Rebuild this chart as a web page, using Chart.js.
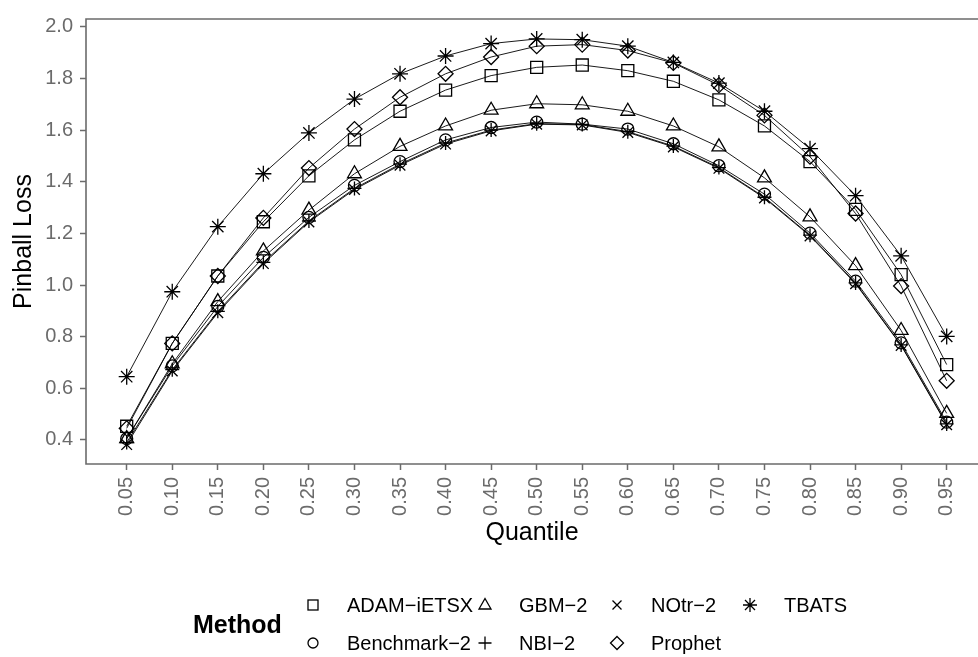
<!DOCTYPE html>
<html lang="en">
<head>
    <meta charset="UTF-8">
    <title>Pinball Loss by Quantile</title>
    <script src="https://cdn.jsdelivr.net/npm/chart.js"></script>
    <style>
        body {
            margin: 0;
            background: #fff;
            font-family: "Liberation Sans", Arial, sans-serif;
        }
        #wrap {
            position: relative;
            width: 978px;
            height: 657px;
        }
        #legendTitle {
            position: absolute;
            left: 193px;
            top: 609px;
            font-size: 25px;
            line-height: 30px;
            font-weight: bold;
            color: #000;
        }
        #legend {
            position: absolute;
            left: 301px;
            top: 586px;
            display: flex;
        }
        .col { display: flex; flex-direction: column; }
        .item {
            display: flex;
            align-items: center;
            height: 38px;
            font-size: 20px;
            color: #000;
            white-space: nowrap;
        }
        .item svg { width: 24px; height: 24px; margin-right: 22px; flex: none; }
    </style>
</head>
<body>
<div id="wrap">
    <canvas id="lossChart"></canvas>
    <div id="legendTitle">Method</div>
    <div id="legend"></div>
</div>

<script>
    // x positions (quantile levels) and their tick labels
    const quantiles = [0.05, 0.10, 0.15, 0.20, 0.25, 0.30, 0.35, 0.40, 0.45, 0.50,
                       0.55, 0.60, 0.65, 0.70, 0.75, 0.80, 0.85, 0.90, 0.95];
    const quantileLabels = ['0.05', '0.10', '0.15', '0.20', '0.25', '0.30', '0.35', '0.40', '0.45', '0.50',
                            '0.55', '0.60', '0.65', '0.70', '0.75', '0.80', '0.85', '0.90', '0.95'];
    const yTicks = [0.4, 0.6, 0.8, 1.0, 1.2, 1.4, 1.6, 1.8, 2.0];
    const yTickLabels = ['0.4', '0.6', '0.8', '1.0', '1.2', '1.4', '1.6', '1.8', '2.0'];

    // pinball loss per method
    const adamIetsx = [0.453, 0.774, 1.035, 1.245, 1.423, 1.562, 1.673, 1.755, 1.811, 1.843,
                       1.852, 1.830, 1.789, 1.717, 1.616, 1.478, 1.293, 1.040, 0.692];
    const benchmark2 = [0.405, 0.687, 0.917, 1.107, 1.262, 1.386, 1.478, 1.562, 1.610, 1.631,
                        1.623, 1.604, 1.547, 1.462, 1.352, 1.201, 1.015, 0.776, 0.469];
    const gbm2 = [0.405, 0.695, 0.936, 1.132, 1.290, 1.431, 1.537, 1.616, 1.677, 1.702,
                  1.698, 1.673, 1.616, 1.535, 1.415, 1.264, 1.075, 0.824, 0.503];
    const nbi2 = [0.390, 0.672, 0.898, 1.088, 1.248, 1.374, 1.468, 1.550, 1.600, 1.625,
                  1.622, 1.594, 1.538, 1.455, 1.340, 1.193, 1.008, 0.768, 0.462];
    const notr2 = [0.382, 0.667, 0.893, 1.083, 1.244, 1.370, 1.464, 1.546, 1.597, 1.623,
                   1.620, 1.591, 1.535, 1.452, 1.337, 1.190, 1.005, 0.766, 0.459];
    const prophet = [0.445, 0.774, 1.035, 1.260, 1.453, 1.604, 1.727, 1.818, 1.883, 1.925,
                     1.931, 1.908, 1.860, 1.774, 1.657, 1.497, 1.277, 0.996, 0.629];
    const tbats = [0.645, 0.974, 1.226, 1.431, 1.589, 1.720, 1.818, 1.887, 1.935, 1.953,
                   1.950, 1.925, 1.862, 1.782, 1.673, 1.528, 1.346, 1.113, 0.801];

    const methodNames = ['ADAM\u2212iETSX', 'Benchmark\u22122', 'GBM\u22122', 'NBI\u22122', 'NOtr\u22122', 'Prophet', 'TBATS'];
    const methodValues = [adamIetsx, benchmark2, gbm2, nbi2, notr2, prophet, tbats];
    const methodShapes = ['rect', 'circle', 'triangle', 'cross', 'crossRot', 'rectRot', 'star'];
    const shapeRadius = { rect: 8.5, circle: 6, triangle: 8, cross: 7, crossRot: 7.5, rectRot: 7.5, star: 8 };

    const axisGrey = '#6b6b6b';
    const fontFamily = '"Liberation Sans", Arial, sans-serif';

    const datasets = methodNames.map((name, i) => ({
        label: name,
        data: quantiles.map((q, j) => ({ x: q, y: methodValues[i][j] })),
        borderColor: '#000',
        borderWidth: 0.9,
        pointStyle: methodShapes[i],
        pointRadius: shapeRadius[methodShapes[i]],
        pointBorderColor: '#000',
        pointBackgroundColor: 'rgba(0,0,0,0)',
        pointBorderWidth: 1.3,
        tension: 0,
        fill: false
    }));

    // panel border (top, left, bottom) like the ggplot box
    const panelBorder = {
        id: 'panelBorder',
        afterDraw(chart) {
            const { ctx, chartArea: a } = chart;
            ctx.save();
            ctx.strokeStyle = axisGrey;
            ctx.lineWidth = 1.6;
            ctx.beginPath();
            ctx.moveTo(a.right + 2, a.top);
            ctx.lineTo(a.left, a.top);
            ctx.lineTo(a.left, a.bottom);
            ctx.lineTo(a.right + 2, a.bottom);
            ctx.stroke();
            ctx.restore();
        }
    };

    const ctx = document.getElementById('lossChart').getContext('2d');
    new Chart(ctx, {
        type: 'line',
        data: { datasets: datasets },
        plugins: [panelBorder],
        options: {
            responsive: true,
            maintainAspectRatio: false,
            animation: false,
            layout: {
                autoPadding: false,
                padding: { left: 9, top: 7, right: 0, bottom: 109 }
            },
            plugins: {
                legend: { display: false },
                tooltip: { enabled: false }
            },
            scales: {
                x: {
                    type: 'linear',
                    min: 0.00533,
                    max: 0.98437,
                    afterBuildTicks: (scale) => {
                        scale.ticks = quantiles.map(v => ({ value: v }));
                    },
                    afterFit: (scale) => { scale.height = 84; },
                    grid: {
                        display: true,
                        drawOnChartArea: false,
                        drawTicks: true,
                        tickLength: 6,
                        tickWidth: 1.5,
                        tickColor: axisGrey
                    },
                    border: { display: false },
                    ticks: {
                        autoSkip: false,
                        minRotation: 90,
                        maxRotation: 90,
                        padding: 7,
                        color: axisGrey,
                        font: { family: fontFamily, size: 20 },
                        callback: (v, i) => quantileLabels[i]
                    },
                    title: {
                        display: true,
                        text: 'Quantile',
                        color: '#000',
                        padding: 0,
                        font: { family: fontFamily, size: 25 }
                    }
                },
                y: {
                    min: 0.3069,
                    max: 2.0302,
                    afterBuildTicks: (scale) => {
                        scale.ticks = yTicks.map(v => ({ value: v }));
                    },
                    afterFit: (scale) => { scale.width = 77; },
                    grid: {
                        display: true,
                        drawOnChartArea: false,
                        drawTicks: true,
                        tickLength: 6,
                        tickWidth: 1.5,
                        tickColor: axisGrey
                    },
                    border: { display: false },
                    ticks: {
                        padding: 7,
                        color: axisGrey,
                        font: { family: fontFamily, size: 20 },
                        callback: (v, i) => yTickLabels[i]
                    },
                    title: {
                        display: true,
                        text: 'Pinball Loss',
                        color: '#000',
                        padding: 0,
                        font: { family: fontFamily, size: 25 }
                    }
                }
            }
        }
    });

    // legend symbols drawn as small svgs, matching the marker shapes
    function symbolSvg(shape) {
        const s = 'fill="none" stroke="#000" stroke-width="1.3"';
        let body = '';
        if (shape === 'rect') body = `<rect x="7" y="7" width="10" height="10" ${s}/>`;
        if (shape === 'circle') body = `<circle cx="12" cy="12" r="5" ${s}/>`;
        if (shape === 'triangle') body = `<polygon points="12,5.5 18,16 6,16" ${s}/>`;
        if (shape === 'cross') body = `<path d="M12 5.5V18.5M5.5 12H18.5" ${s}/>`;
        if (shape === 'crossRot') body = `<path d="M7.5 7.5L16.5 16.5M16.5 7.5L7.5 16.5" ${s}/>`;
        if (shape === 'rectRot') body = `<polygon points="12,5.5 18.5,12 12,18.5 5.5,12" ${s}/>`;
        if (shape === 'star') body = `<path d="M12 5V19M5 12H19M7 7L17 17M17 7L7 17" ${s}/>`;
        return `<svg viewBox="0 0 24 24">${body}</svg>`;
    }

    const legendEl = document.getElementById('legend');
    const colWidths = [172, 132, 133, 0];
    for (let c = 0; c < 4; c++) {
        const col = document.createElement('div');
        col.className = 'col';
        if (colWidths[c]) col.style.width = colWidths[c] + 'px';
        for (let r = 0; r < 2; r++) {
            const i = c * 2 + r;
            if (i >= methodNames.length) break;
            const item = document.createElement('div');
            item.className = 'item';
            item.innerHTML = symbolSvg(methodShapes[i]) + '<span>' + methodNames[i] + '</span>';
            col.appendChild(item);
        }
        legendEl.appendChild(col);
    }
</script>
</body>
</html>
